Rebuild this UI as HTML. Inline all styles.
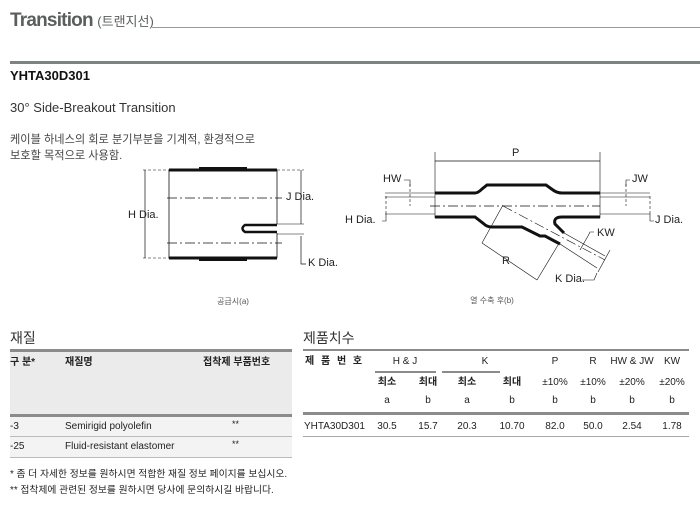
<!DOCTYPE html>
<html><head><meta charset="utf-8"><style>
body{margin:0;width:700px;height:527px;background:#fff;position:relative;overflow:hidden;font-family:"Liberation Sans","Noto Sans CJK KR",sans-serif;color:#222}
.t{position:absolute;white-space:nowrap;line-height:1}
.c{transform:translateX(-50%)}
.bar{position:absolute;background:#8a8c8a}
</style></head><body>
<div class="t" style="left:10px;top:11px;font-size:19px;font-weight:bold;color:#5a5e5c;letter-spacing:-0.8px">Transition <span style="font-size:13px;font-weight:normal;letter-spacing:0">(트랜지선)</span></div>
<div class="bar" style="left:152px;top:27px;width:548px;height:1px;background:#999"></div>
<div class="bar" style="left:10px;top:61px;width:690px;height:3px;background:#7d8380"></div>
<div class="t" style="left:10px;top:69px;font-size:13px;font-weight:bold;color:#111">YHTA30D301</div>
<div class="t" style="left:10px;top:101px;font-size:13px;color:#333">30° Side-Breakout Transition</div>
<div class="t" style="left:10px;top:135px;font-size:11.2px;color:#444">케이블 하네스의 회로 분기부분을 기계적, 환경적으로</div>
<div class="t" style="left:10px;top:151px;font-size:11.2px;color:#444">보호할 목적으로 사용함.</div>

<svg style="position:absolute;left:0;top:0" width="700" height="527">
<g stroke="#111" fill="none">
<line x1="169" y1="170" x2="169" y2="258" stroke-width="0.8"/>
<line x1="277" y1="170" x2="277" y2="224" stroke-width="0.8"/>
<line x1="277" y1="233" x2="277" y2="258" stroke-width="0.8"/>
<line x1="169" y1="170" x2="277" y2="170" stroke-width="3"/>
<line x1="199" y1="169" x2="247" y2="169" stroke-width="4"/>
<line x1="169" y1="258" x2="277" y2="258" stroke-width="3"/>
<line x1="199" y1="259" x2="247" y2="259" stroke-width="4"/>
<path d="M277 225 H245 Q240 228.5 245 232 H277" stroke-width="2.5"/>
<line x1="167" y1="198" x2="282" y2="198" stroke-width="0.7" stroke-dasharray="10,3,2,3"/>
<line x1="167" y1="243" x2="282" y2="243" stroke-width="0.7" stroke-dasharray="10,3,2,3"/>
<line x1="145" y1="170" x2="145" y2="258" stroke-width="0.7"/>
<line x1="143" y1="170" x2="169" y2="170" stroke-width="0.6" stroke-dasharray="3,2"/>
<line x1="143" y1="258" x2="169" y2="258" stroke-width="0.6" stroke-dasharray="3,2"/>
<line x1="277" y1="170" x2="304" y2="170" stroke-width="0.6" stroke-dasharray="3,2"/>
<line x1="277" y1="224" x2="304" y2="224" stroke-width="0.6"/>
<line x1="301" y1="170" x2="301" y2="224" stroke-width="0.7"/>
<line x1="277" y1="234" x2="304" y2="234" stroke-width="0.6"/>
<path d="M301 236 V264 H306" stroke-width="0.7"/>
<line x1="435" y1="161" x2="600" y2="161" stroke-width="0.7"/>
<line x1="435" y1="152" x2="435" y2="218" stroke-width="0.6"/>
<line x1="600" y1="152" x2="600" y2="218" stroke-width="0.6"/>
<path d="M435 193 H475 Q478 193 482 189 L487 185 H546 L553 190 Q557 193 562 193 H600" stroke-width="3"/>
<path d="M435 217 H475 L484 224 Q487 227 492 227 H522 L540 236 H545 L560 244" stroke-width="3"/>
<path d="M600 217 H562 Q553 217 555 224 L564 233" stroke-width="3"/>
<line x1="430" y1="206" x2="600" y2="206" stroke-width="0.7" stroke-dasharray="10,3,2,3"/>
<line x1="503" y1="206" x2="605" y2="260" stroke-width="0.6" stroke-dasharray="10,3,2,3"/>
<line x1="503" y1="205" x2="482" y2="243" stroke-width="0.6"/>
<line x1="482" y1="243" x2="537" y2="280" stroke-width="0.6"/>
<line x1="537" y1="280" x2="558" y2="245" stroke-width="0.6"/>
<line x1="560" y1="244" x2="597" y2="268" stroke-width="0.6"/>
<line x1="564" y1="233" x2="605" y2="256" stroke-width="0.6"/>
<line x1="580" y1="250" x2="588" y2="236" stroke-width="0.6"/>
<line x1="598" y1="272" x2="610" y2="250" stroke-width="0.6"/>
<path d="M588 236 L590 232 H594" stroke-width="0.6"/>
<path d="M597 273 L594 280 H582" stroke-width="0.6"/>
<line x1="385" y1="193" x2="435" y2="193" stroke-width="0.6"/>
<line x1="385" y1="197" x2="435" y2="197" stroke-width="0.6"/>
<line x1="385" y1="214" x2="435" y2="214" stroke-width="0.6"/>
<line x1="410" y1="184" x2="410" y2="206" stroke-width="0.6" stroke-dasharray="3,2"/>
<path d="M404 180 H410 V186" stroke-width="0.6"/>
<line x1="386" y1="196" x2="386" y2="214" stroke-width="0.6" stroke-dasharray="3,2"/>
<path d="M386 214 V221 H382" stroke-width="0.6"/>
<line x1="600" y1="193" x2="650" y2="193" stroke-width="0.6"/>
<line x1="600" y1="197" x2="650" y2="197" stroke-width="0.6"/>
<line x1="600" y1="214" x2="650" y2="214" stroke-width="0.6"/>
<line x1="626" y1="184" x2="626" y2="206" stroke-width="0.6" stroke-dasharray="3,2"/>
<path d="M626 186 V180 H630" stroke-width="0.6"/>
<line x1="650" y1="196" x2="650" y2="214" stroke-width="0.6" stroke-dasharray="3,2"/>
<path d="M650 214 V221 H654" stroke-width="0.6"/>
</g>
</svg>
<div class="t" style="left:128px;top:210px;font-size:11px">H Dia.</div>
<div class="t" style="left:286px;top:192px;font-size:11px">J Dia.</div>
<div class="t" style="left:308px;top:258px;font-size:11px">K Dia.</div>
<div class="t c" style="left:233px;top:298px;font-size:8px;color:#555">공급시(a)</div>
<div class="t" style="left:512px;top:148px;font-size:11px">P</div>
<div class="t" style="left:383px;top:174px;font-size:11px">HW</div>
<div class="t" style="left:345px;top:215px;font-size:11px">H Dia.</div>
<div class="t" style="left:632px;top:174px;font-size:11px">JW</div>
<div class="t" style="left:655px;top:215px;font-size:11px">J Dia.</div>
<div class="t" style="left:597px;top:228px;font-size:11px">KW</div>
<div class="t" style="left:502px;top:256px;font-size:11px">R</div>
<div class="t" style="left:555px;top:274px;font-size:11px">K Dia.</div>
<div class="t c" style="left:492px;top:297px;font-size:8px;color:#555">열 수축 후(b)</div>

<div class="t" style="left:10px;top:331px;font-size:14px;color:#333">재질</div>
<div class="bar" style="left:10px;top:349px;width:282px;height:3px"></div>
<div style="position:absolute;left:10px;top:352px;width:282px;height:62px;background:#ebebeb"></div>
<div class="t" style="left:10px;top:358px;font-size:10px;font-weight:bold">구 분*</div>
<div class="t" style="left:65px;top:358px;font-size:10px;font-weight:bold">재질명</div>
<div class="t" style="left:203px;top:358px;font-size:10px;font-weight:bold">접착제 부품번호</div>
<div class="bar" style="left:10px;top:414px;width:282px;height:3px"></div>
<div style="position:absolute;left:10px;top:417px;width:282px;height:20px;background:#f3f3f3"></div>
<div class="t" style="left:10px;top:422px;font-size:10px">-3</div>
<div class="t" style="left:65px;top:422px;font-size:10px">Semirigid polyolefin</div>
<div class="t" style="left:232px;top:420px;font-size:9px">**</div>
<div class="bar" style="left:10px;top:436px;width:282px;height:1px;background:#bbb"></div>
<div style="position:absolute;left:10px;top:437px;width:282px;height:20px;background:#f3f3f3"></div>
<div class="t" style="left:10px;top:442px;font-size:10px">-25</div>
<div class="t" style="left:65px;top:442px;font-size:10px">Fluid-resistant elastomer</div>
<div class="t" style="left:232px;top:440px;font-size:9px">**</div>
<div class="bar" style="left:10px;top:457px;width:282px;height:1px;background:#bbb"></div>
<div class="t" style="left:10px;top:470px;font-size:9.8px">* 좀 더 자세한 정보를 원하시면 적합한 재질 정보 페이지를 보십시오.</div>
<div class="t" style="left:10px;top:486px;font-size:9.8px">** 접착제에 관련된 정보를 원하시면 당사에 문의하시길 바랍니다.</div>

<div class="t" style="left:303px;top:331px;font-size:14px;color:#333">제품치수</div>
<div class="bar" style="left:303px;top:349px;width:386px;height:2px"></div>
<div class="t" style="left:305px;top:357px;font-size:10px;font-weight:bold;letter-spacing:2px">제 품 번 호</div>
<div class="t c" style="left:405px;top:357px;font-size:10px">H &amp; J</div>
<div class="bar" style="left:375px;top:371px;width:61px;height:2px"></div>
<div class="t c" style="left:485px;top:357px;font-size:10px">K</div>
<div class="bar" style="left:442px;top:371px;width:58px;height:2px"></div>
<div class="t c" style="left:555px;top:357px;font-size:10px">P</div>
<div class="t c" style="left:593px;top:357px;font-size:10px">R</div>
<div class="t c" style="left:632px;top:357px;font-size:10px">HW &amp; JW</div>
<div class="t c" style="left:672px;top:357px;font-size:10px">KW</div>
<div class="t c" style="left:387px;top:378px;font-size:10px;font-weight:bold">최소</div>
<div class="t c" style="left:428px;top:378px;font-size:10px;font-weight:bold">최대</div>
<div class="t c" style="left:467px;top:378px;font-size:10px;font-weight:bold">최소</div>
<div class="t c" style="left:512px;top:378px;font-size:10px;font-weight:bold">최대</div>
<div class="t c" style="left:555px;top:378px;font-size:10px">±10%</div>
<div class="t c" style="left:593px;top:378px;font-size:10px">±10%</div>
<div class="t c" style="left:632px;top:378px;font-size:10px">±20%</div>
<div class="t c" style="left:672px;top:378px;font-size:10px">±20%</div>
<div class="t c" style="left:387px;top:396px;font-size:10px">a</div>
<div class="t c" style="left:428px;top:396px;font-size:10px">b</div>
<div class="t c" style="left:467px;top:396px;font-size:10px">a</div>
<div class="t c" style="left:512px;top:396px;font-size:10px">b</div>
<div class="t c" style="left:555px;top:396px;font-size:10px">b</div>
<div class="t c" style="left:593px;top:396px;font-size:10px">b</div>
<div class="t c" style="left:632px;top:396px;font-size:10px">b</div>
<div class="t c" style="left:672px;top:396px;font-size:10px">b</div>
<div class="bar" style="left:303px;top:412px;width:386px;height:3px"></div>
<div class="t" style="left:304px;top:422px;font-size:10px">YHTA30D301</div>
<div class="t c" style="left:387px;top:422px;font-size:10px">30.5</div>
<div class="t c" style="left:428px;top:422px;font-size:10px">15.7</div>
<div class="t c" style="left:467px;top:422px;font-size:10px">20.3</div>
<div class="t c" style="left:512px;top:422px;font-size:10px">10.70</div>
<div class="t c" style="left:555px;top:422px;font-size:10px">82.0</div>
<div class="t c" style="left:593px;top:422px;font-size:10px">50.0</div>
<div class="t c" style="left:632px;top:422px;font-size:10px">2.54</div>
<div class="t c" style="left:672px;top:422px;font-size:10px">1.78</div>
<div class="bar" style="left:303px;top:436px;width:386px;height:1px;background:#aaa"></div>
</body></html>
